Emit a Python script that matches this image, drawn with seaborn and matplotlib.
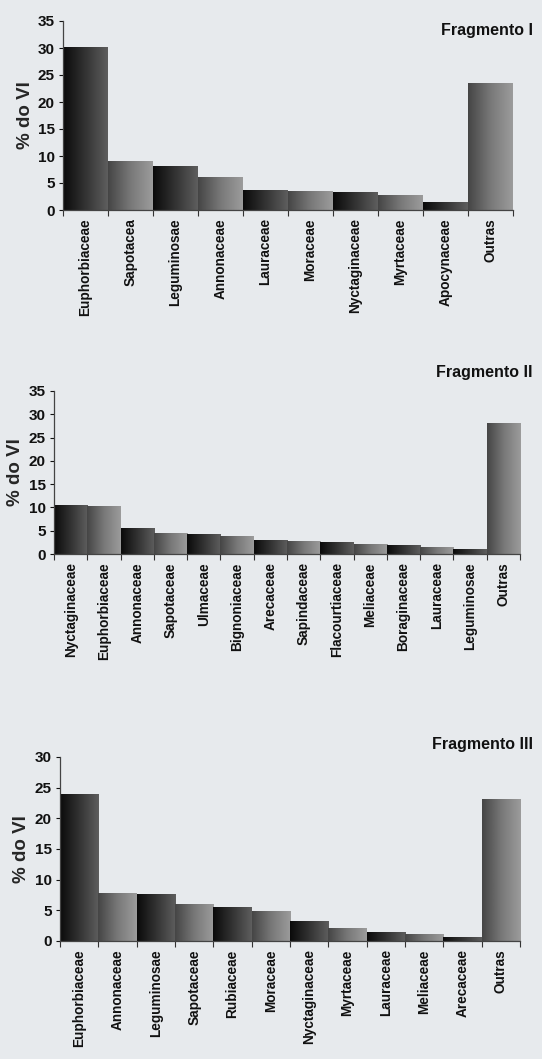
import numpy as np
import pandas as pd
import matplotlib
matplotlib.use("Agg")
import matplotlib.pyplot as plt
import seaborn as sns
from matplotlib.colors import LinearSegmentedColormap

# ---- data ----
fam1 = ["Euphorbiaceae", "Sapotacea", "Leguminosae", "Annonaceae", "Lauraceae",
        "Moraceae", "Nyctaginaceae", "Myrtaceae", "Apocynaceae", "Outras"]
vi1 = [30.2, 9.0, 8.1, 6.1, 3.7, 3.5, 3.3, 2.7, 1.5, 23.5]

fam2 = ["Nyctaginaceae", "Euphorbiaceae", "Annonaceae", "Sapotaceae", "Ulmaceae",
        "Bignoniaceae", "Arecaceae", "Sapindaceae", "Flacourtiaceae", "Meliaceae",
        "Boraginaceae", "Lauraceae", "Leguminosae", "Outras"]
vi2 = [10.6, 10.3, 5.6, 4.6, 4.3, 3.8, 3.1, 2.8, 2.5, 2.1, 2.0, 1.6, 1.0, 28.2]

fam3 = ["Euphorbiaceae", "Annonaceae", "Leguminosae", "Sapotaceae", "Rubiaceae",
        "Moraceae", "Nyctaginaceae", "Myrtaceae", "Lauraceae", "Meliaceae",
        "Arecaceae", "Outras"]
vi3 = [24.0, 7.9, 7.7, 6.1, 5.5, 4.9, 3.3, 2.2, 1.5, 1.2, 0.6, 23.2]

titles = ["Fragmento I", "Fragmento II", "Fragmento III"]
yticks = [[0, 5, 10, 15, 20, 25, 30, 35], [0, 5, 10, 15, 20, 25, 30, 35],
          [0, 5, 10, 15, 20, 25, 30]]
ymax = [35, 35, 30]

BG = "#e7eaed"
sns.set_theme(style="ticks")
plt.rcParams["font.family"] = ["Liberation Sans", "DejaVu Sans"]

fig = plt.figure(figsize=(5.42, 10.59), dpi=100, facecolor=BG)

rects = [
    [63 / 542, 1 - 210 / 1059, (513 - 63) / 542, (210 - 21) / 1059],
    [54 / 542, 1 - 554 / 1059, (520 - 54) / 542, (554 - 391) / 1059],
    [60 / 542, 1 - 941 / 1059, (520 - 60) / 542, (941 - 757) / 1059],
]
title_y = [30, 373, 745]

cmap_dark = LinearSegmentedColormap.from_list("d", ["#0a0a0a", "#333333", "#5e5e5e"])
cmap_light = LinearSegmentedColormap.from_list("l", ["#454545", "#787878", "#9c9c9c"])
grad = np.linspace(0, 1, 256).reshape(1, -1)

for k, (fam, vi) in enumerate([(fam1, vi1), (fam2, vi2), (fam3, vi3)]):
    ax = fig.add_axes(rects[k])
    ax.set_facecolor(BG)
    df = pd.DataFrame({"Familia": fam, "VI": vi})
    sns.barplot(data=df, x="Familia", y="VI", width=1.0, color="#777777",
                ax=ax, linewidth=0, saturation=1)
    n = len(fam)
    for i, p in enumerate(ax.patches):
        x0, y0 = p.get_x(), p.get_y()
        w, h = p.get_width(), p.get_height()
        cm = cmap_dark if i % 2 == 0 else cmap_light
        im = ax.imshow(grad, cmap=cm, aspect="auto",
                       extent=[x0, x0 + w, y0, y0 + h], zorder=2)
        im.set_clip_path(p)
        p.set_facecolor("none")
    ax.set_xlim(-0.5, n - 0.5)
    ax.set_ylim(0, ymax[k])
    ax.set_yticks(yticks[k])
    ax.set_yticklabels([str(t) for t in yticks[k]], fontsize=11, fontweight="bold")
    ax.set_xticks(range(n))
    ax.set_xticklabels(fam, rotation=90, fontsize=9.8, fontweight="bold")
    ax.set_xticks(np.arange(-0.5, n, 1.0), minor=True)
    ax.tick_params(axis="x", which="major", length=0, pad=6, colors="#111111")
    ax.tick_params(axis="x", which="minor", length=4, width=0.8, color="#333333")
    ax.tick_params(axis="y", length=3, width=0.8, pad=3, colors="#111111")
    ax.set_xlabel("")
    ax.set_ylabel("% do VI", fontsize=13.5, fontweight="bold", labelpad=3)
    sns.despine(ax=ax)
    for s in ["left", "bottom"]:
        ax.spines[s].set_color("#444444")
        ax.spines[s].set_linewidth(0.9)
    fig.text(533 / 542, 1 - title_y[k] / 1059, titles[k], ha="right", va="center",
             fontsize=11.5, fontweight="bold", color="#111111")

fig.savefig("out.png", dpi=100, facecolor=BG)
